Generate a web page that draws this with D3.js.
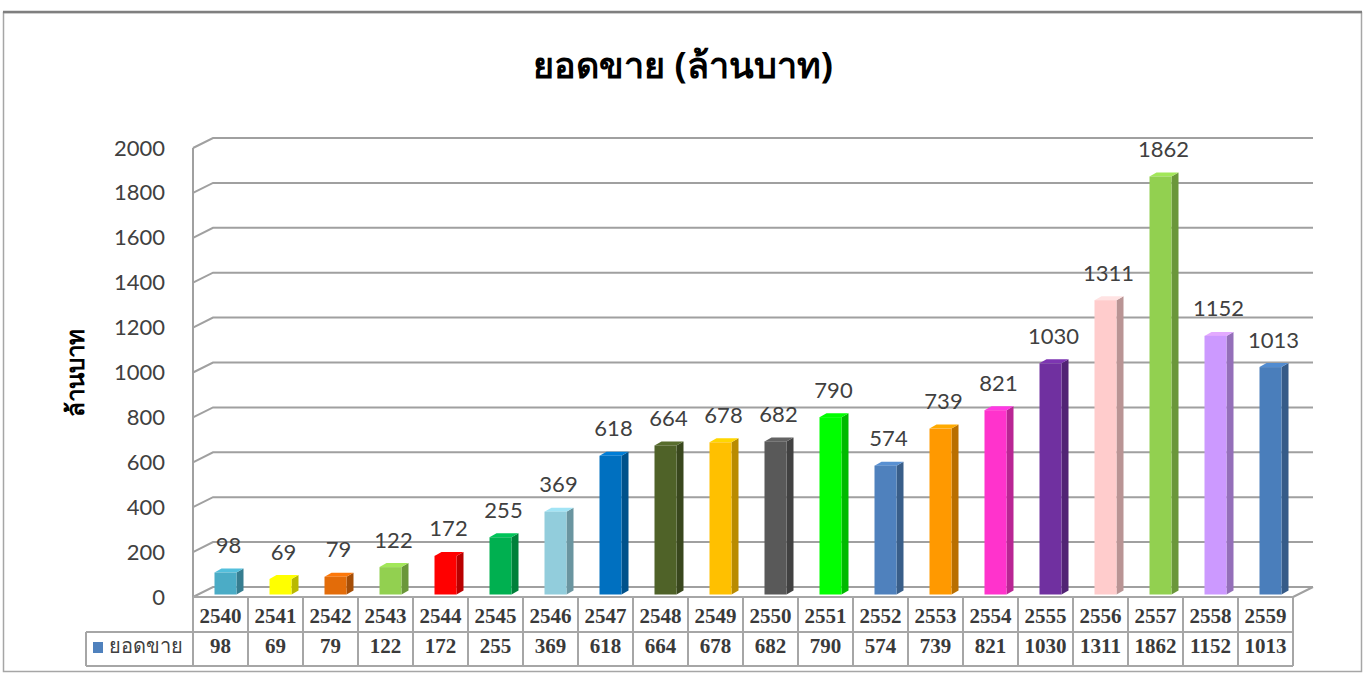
<!DOCTYPE html>
<html>
<head>
<meta charset="utf-8">
<style>
    body { margin: 0; background: #fff; }
    svg { display: block; }
    .tick-label { font-family: Lato, 'Open Sans', sans-serif; font-size: 22px; fill: #404040; }
    .bar-label { font-family: Lato, 'Open Sans', sans-serif; font-size: 22px; fill: #404040; }
    .cell-text { font-family: 'Liberation Serif', serif; font-weight: bold; font-size: 21px; fill: #3a3a3a; }
</style>
</head>
<body>
<svg width="1367" height="676"></svg>

<script src="https://d3js.org/d3.v7.min.js"></script>
<script>
    // data
    let years = ["2540","2541","2542","2543","2544","2545","2546","2547","2548","2549",
                 "2550","2551","2552","2553","2554","2555","2556","2557","2558","2559"]
    let sales = [98, 69, 79, 122, 172, 255, 369, 618, 664, 678,
                 682, 790, 574, 739, 821, 1030, 1311, 1862, 1152, 1013]
    let barColors = ["#4bacc6","#ffff00","#e36c09","#92d050","#ff0000","#00b050","#92cddc","#0070c0","#4f6228","#ffc000",
                     "#595959","#00ff00","#4f81bd","#ff9900","#ff33cc","#7030a0","#ffcccc","#92d050","#cc99ff","#4a7ebb"]
    let yTicks = [0, 200, 400, 600, 800, 1000, 1200, 1400, 1600, 1800, 2000]
    let title = "ยอดขาย (ล้านบาท)"
    let yTitle = "ล้านบาท"
    let seriesName = "ยอดขาย"

    let svg = d3.select("svg")

    // layout
    let left = 193, right = 1293
    let floorY = 597, topY = 148
    let depth = { dx: 20, dy: -10 }     // back wall offset
    let barOff = { dx: 5, dy: -2.5 }    // plane where bars stand
    let barDepth = { dx: 7, dy: -4 }    // bar thickness

    let x = d3.scaleBand().domain(years).range([left, right]).padding(0)
    let y = d3.scaleLinear().domain([0, 2000]).range([floorY, topY])

    // outer chart border
    svg.append("rect")
        .attr("x", 3.5).attr("y", 12.5)
        .attr("width", 1358).attr("height", 659)
        .attr("fill", "white")
        .attr("stroke", "#a6a6a6")
        .attr("stroke-width", 1.5)
    svg.append("line")
        .attr("x1", 3).attr("x2", 1362).attr("y1", 12).attr("y2", 12)
        .attr("stroke", "#7f7f7f").attr("stroke-width", 2.5)

    // title
    svg.append("text")
        .attr("x", 683).attr("y", 78)
        .attr("text-anchor", "middle")
        .style("font-family", "'Noto Sans', sans-serif")
        .style("font-weight", "bold")
        .style("font-size", "36px")
        .attr("fill", "#000")
        .text(title)

    // gridlines (left wall diagonal + back wall)
    let grid = svg.append("g")
    grid.selectAll(".gl")
        .data(yTicks)
        .join("path")
        .attr("class", "gl")
        .attr("fill", "none")
        .attr("stroke", "#a0a0a0")
        .attr("stroke-width", 2)
        .attr("d", d => `M${left},${y(d)} L${left + depth.dx},${y(d) + depth.dy} L${right + depth.dx},${y(d) + depth.dy}`)

    // floor right edge
    svg.append("path")
        .attr("fill", "none")
        .attr("stroke", "#a0a0a0")
        .attr("stroke-width", 2)
        .attr("d", `M${right},${floorY} L${right + depth.dx},${floorY + depth.dy}`)

    // vertical axis line
    svg.append("line")
        .attr("x1", left).attr("x2", left)
        .attr("y1", y(2000)).attr("y2", floorY)
        .attr("stroke", "#a0a0a0").attr("stroke-width", 2)

    // y tick labels
    svg.append("g")
        .selectAll("text")
        .data(yTicks)
        .join("text")
        .attr("class", "tick-label")
        .attr("x", 165)
        .attr("y", d => y(d) + 2)
        .attr("text-anchor", "end")
        .attr("dominant-baseline", "middle")
        .text(d => d)

    // y axis title
    svg.append("text")
        .attr("transform", "translate(84,373) rotate(-90)")
        .attr("text-anchor", "middle")
        .style("font-family", "'Noto Sans', sans-serif")
        .style("font-weight", "bold")
        .style("font-size", "24px")
        .attr("fill", "#000")
        .text(yTitle)

    // 3d bars
    let bw = x.bandwidth() * 0.4
    let bars = svg.append("g")
        .selectAll("g")
        .data(sales.map((v, i) => ({ year: years[i], value: v, color: barColors[i] })))
        .join("g")

    let bx = d => x(d.year) + (x.bandwidth() - bw) / 2 + barOff.dx
    let by0 = floorY + barOff.dy
    let byTop = d => y(d.value) + barOff.dy

    // side face
    bars.append("path")
        .attr("fill", d => d3.color(d.color).darker(0.9))
        .attr("d", d => {
            let x1 = bx(d) + bw, t = byTop(d)
            return `M${x1},${t} L${x1 + barDepth.dx},${t + barDepth.dy} L${x1 + barDepth.dx},${by0 + barDepth.dy} L${x1},${by0} Z`
        })
    // top face
    bars.append("path")
        .attr("fill", d => d3.color(d.color).brighter(0.3))
        .attr("d", d => {
            let x0 = bx(d), t = byTop(d)
            return `M${x0},${t} L${x0 + barDepth.dx},${t + barDepth.dy} L${x0 + bw + barDepth.dx},${t + barDepth.dy} L${x0 + bw},${t} Z`
        })
    // front face
    bars.append("rect")
        .attr("x", d => bx(d))
        .attr("y", d => byTop(d))
        .attr("width", bw)
        .attr("height", d => by0 - byTop(d))
        .attr("fill", d => d.color)

    // value labels
    bars.append("text")
        .attr("class", "bar-label")
        .attr("x", d => bx(d) + bw / 2 + 3)
        .attr("y", d => byTop(d) - 19.5)
        .attr("text-anchor", "middle")
        .text(d => d.value)

    // data table
    let rowTop = floorY, rowMid = 632, rowBot = 666, legLeft = 86
    let table = svg.append("g")
        .attr("stroke", "#a6a6a6")
        .attr("stroke-width", 2)
    table.append("line").attr("x1", left).attr("x2", right).attr("y1", rowTop).attr("y2", rowTop)
    table.append("line").attr("x1", legLeft).attr("x2", right).attr("y1", rowMid).attr("y2", rowMid)
    table.append("line").attr("x1", legLeft).attr("x2", right).attr("y1", rowBot).attr("y2", rowBot)
    table.append("line").attr("x1", legLeft).attr("x2", legLeft).attr("y1", rowMid).attr("y2", rowBot)
    table.selectAll(".vl")
        .data(years.concat(["end"]))
        .join("line")
        .attr("class", "vl")
        .attr("x1", (d, i) => left + i * x.bandwidth())
        .attr("x2", (d, i) => left + i * x.bandwidth())
        .attr("y1", rowTop).attr("y2", rowBot)

    svg.append("g")
        .selectAll("text")
        .data(years)
        .join("text")
        .attr("class", "cell-text")
        .attr("x", d => x(d) + x.bandwidth() / 2)
        .attr("y", 618)
        .attr("text-anchor", "middle")
        .attr("dominant-baseline", "middle")
        .text(d => d)

    svg.append("g")
        .selectAll("text")
        .data(sales)
        .join("text")
        .attr("class", "cell-text")
        .attr("x", (d, i) => x(years[i]) + x.bandwidth() / 2)
        .attr("y", 648)
        .attr("text-anchor", "middle")
        .attr("dominant-baseline", "middle")
        .text(d => d)

    // legend key in table
    svg.append("rect")
        .attr("x", 93).attr("y", 642)
        .attr("width", 10).attr("height", 11)
        .attr("fill", "#4f81bd")
    svg.append("text")
        .attr("x", 109).attr("y", 648)
        .attr("dominant-baseline", "middle")
        .style("font-family", "'Noto Sans', sans-serif")
        .style("font-size", "20px")
        .attr("fill", "#404040")
        .text(seriesName)
</script>
</body>
</html>
